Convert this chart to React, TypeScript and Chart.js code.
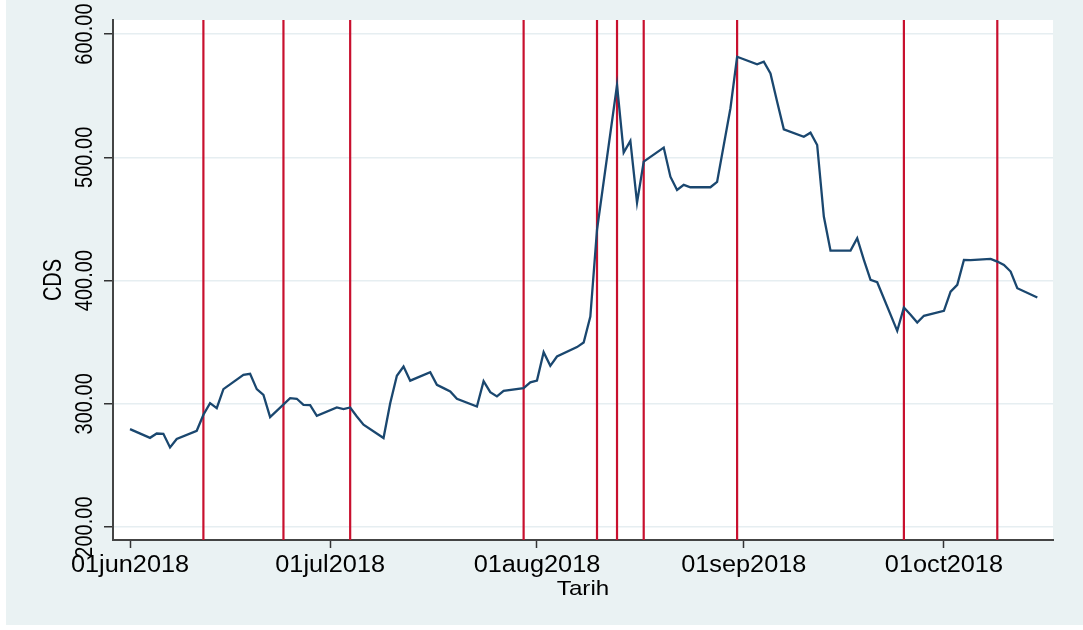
import React, { useEffect, useRef } from "react";
import { Chart, registerables } from "chart.js";

Chart.register(...registerables);

// Days since 01jun2018 (day 0) and CDS values
const dayNums = [
  0, 3, 4, 5, 6, 7, 10, 11, 12, 13, 14, 17, 18, 19, 20, 21, 24, 25, 26, 27, 28,
  31, 32, 33, 34, 35, 38, 39, 40, 41, 42, 45, 46, 47, 48, 49, 52, 53, 54, 55, 56,
  59, 60, 61, 62, 63, 64, 67, 68, 69, 70, 73, 74, 75, 76, 77, 80, 81, 82, 83, 84,
  87, 88, 90, 91, 94, 95, 96, 97, 98, 101, 102, 103, 104, 105, 108, 109, 110, 111, 112,
  115, 116, 117, 118, 119, 122, 123, 124, 125, 126, 129, 130, 131, 132, 133, 136,
];
const cdsValues = [
  279.5, 272.4, 275.9, 275.7, 264.6, 271.4, 278.1, 291.1, 300.5, 296.5, 311.9, 323.5, 324.3, 311.9, 307.3, 289.2, 304.6, 304.1, 299.2, 298.9, 290.3,
  297.0, 295.7, 297.0, 289.7, 283.0, 272.2, 300.5, 322.7, 330.3, 318.8, 325.7, 315.4, 312.7, 310.0, 304.0, 297.8, 318.4, 309.5, 306.0, 310.5,
  312.7, 317.4, 318.9, 341.9, 330.8, 338.4, 346.0, 349.7, 370.8, 441.1, 558.6, 503.8, 513.3, 463.2, 496.5, 507.9, 484.3, 473.5, 477.6, 475.7,
  475.7, 480.0, 539.8, 581.6, 575.4, 577.6, 568.1, 545.1, 522.7, 516.7, 520.0, 510.0, 451.9, 424.3, 424.3, 434.3, 416.8, 400.5, 398.6,
  359.2, 378.1, 372.2, 365.9, 371.4, 375.4, 391.0, 396.5, 416.8, 416.5, 417.6, 415.4, 412.7, 407.3, 393.8, 386.2,
];
// Event dates (vertical lines), days since 01jun2018
const eventDays = [11, 23, 33, 59, 70, 73, 77, 91, 116, 130];

const xTickDays = [0, 30, 61, 92, 122];
const xTickLabels = ["01jun2018", "01jul2018", "01aug2018", "01sep2018", "01oct2018"];
const yTickValues = [200, 300, 400, 500, 600];
const yTickLabels = ["200.00", "300.00", "400.00", "500.00", "600.00"];
const xTitle = "Tarih";
const yTitle = "CDS";

const FONT = "'Liberation Sans', Arial, Helvetica, sans-serif";

function drawRotated(ctx: CanvasRenderingContext2D, text: string, cx: number, cy: number, size: number, sx: number) {
  ctx.save();
  ctx.translate(cx, cy);
  ctx.scale(sx, 1);
  ctx.rotate(-Math.PI / 2);
  ctx.font = `${size}px ${FONT}`;
  ctx.textAlign = "center";
  ctx.textBaseline = "alphabetic";
  ctx.fillText(text, 0, size * 0.716 / 2);
  ctx.restore();
}

function drawHoriz(ctx: CanvasRenderingContext2D, text: string, cx: number, baseY: number, size: number, sx: number) {
  ctx.save();
  ctx.translate(cx, baseY);
  ctx.scale(sx, 1);
  ctx.font = `${size}px ${FONT}`;
  ctx.textAlign = "center";
  ctx.textBaseline = "alphabetic";
  ctx.fillText(text, 0, 0);
  ctx.restore();
}

const stataPlugin = {
  id: "stataLook",
  beforeDraw(chart: any) {
    const { ctx, chartArea, width, height } = chart;
    ctx.save();
    ctx.fillStyle = "#ffffff";
    ctx.fillRect(0, 0, width, height);
    ctx.fillStyle = "#eaf2f3";
    ctx.fillRect(6, 0, width - 6, 625);
    ctx.fillStyle = "#ffffff";
    ctx.fillRect(chartArea.left, chartArea.top, chartArea.right - chartArea.left, chartArea.bottom - chartArea.top);
    ctx.restore();
  },
  beforeDatasetsDraw(chart: any) {
    const { ctx, chartArea } = chart;
    const xs = chart.scales.x;
    ctx.save();
    ctx.strokeStyle = "#c8102e";
    ctx.lineWidth = 2.2;
    eventDays.forEach((d) => {
      const px = xs.getPixelForValue(d);
      ctx.beginPath();
      ctx.moveTo(px, chartArea.top);
      ctx.lineTo(px, chartArea.bottom);
      ctx.stroke();
    });
    ctx.restore();
  },
  afterDraw(chart: any) {
    const { ctx, chartArea } = chart;
    const xs = chart.scales.x;
    const ys = chart.scales.y;
    ctx.save();
    ctx.fillStyle = "#000000";
    yTickValues.forEach((v, i) => {
      drawRotated(ctx, yTickLabels[i], 83, ys.getPixelForValue(v), 20, 1.22);
    });
    drawRotated(ctx, yTitle, 52, (chartArea.top + chartArea.bottom) / 2, 20, 1.28);
    xTickDays.forEach((d, i) => {
      drawHoriz(ctx, xTickLabels[i], xs.getPixelForValue(d), 572, 23, 1.1);
    });
    drawHoriz(ctx, xTitle, (chartArea.left + chartArea.right) / 2, 595, 21, 1.15);
    ctx.restore();
  },
};

export default function App() {
  const canvasRef = useRef<HTMLCanvasElement | null>(null);

  useEffect(() => {
    document.body.style.margin = "0";
    const canvas = canvasRef.current;
    if (!canvas) return;
    const chart = new Chart(canvas, {
      type: "line",
      data: {
        datasets: [
          {
            label: yTitle,
            data: dayNums.map((d, i) => ({ x: d, y: cdsValues[i] })),
            borderColor: "#1a476f",
            borderWidth: 2.3,
            pointRadius: 0,
            tension: 0,
            fill: false,
          },
        ],
      },
      options: {
        responsive: false,
        animation: false,
        devicePixelRatio: 1,
        layout: { padding: { top: 20, right: 30, bottom: 0, left: 0 } },
        plugins: { legend: { display: false }, tooltip: { enabled: false } },
        scales: {
          x: {
            type: "linear",
            min: -2.55,
            max: 138.35,
            afterBuildTicks: (s: any) => {
              s.ticks = xTickDays.map((v) => ({ value: v }));
            },
            afterFit: (s: any) => {
              s.height = 90;
            },
            ticks: { display: false },
            grid: {
              drawOnChartArea: false,
              drawTicks: true,
              tickLength: 8,
              tickColor: "#333333",
              tickWidth: 1.5,
            },
            border: { display: true, color: "#444444", width: 2 },
          },
          y: {
            type: "linear",
            min: 189.5,
            max: 611.4,
            afterBuildTicks: (s: any) => {
              s.ticks = yTickValues.map((v) => ({ value: v }));
            },
            afterFit: (s: any) => {
              s.width = 113;
            },
            ticks: { display: false },
            grid: {
              color: "#e6eef1",
              lineWidth: 1.5,
              drawTicks: true,
              tickLength: 9,
              tickColor: "#333333",
              tickWidth: 1.5,
            },
            border: { display: true, color: "#444444", width: 2 },
          },
        },
      },
      plugins: [stataPlugin],
    } as any);
    return () => chart.destroy();
  }, []);

  return (
    <div style={{ width: 1083, height: 630 }}>
      <canvas ref={canvasRef} width={1083} height={630} style={{ display: "block", width: 1083, height: 630 }} />
    </div>
  );
}
